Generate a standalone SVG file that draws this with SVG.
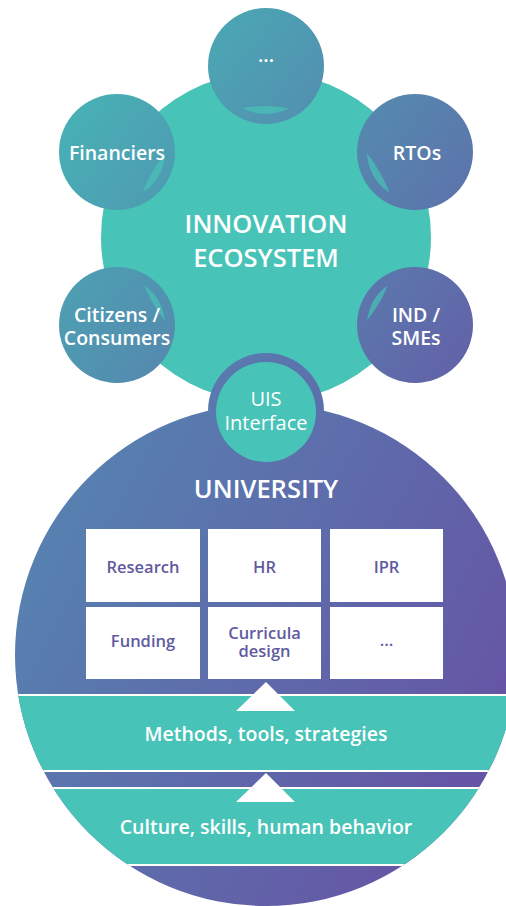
<svg xmlns="http://www.w3.org/2000/svg" width="506" height="906" viewBox="0 0 506 906">
<defs>
<linearGradient id="gSmall" gradientUnits="userSpaceOnUse" x1="60" y1="60" x2="470" y2="380">
<stop offset="0" stop-color="#45b7b6"/>
<stop offset="1" stop-color="#6360a8"/>
</linearGradient>
<linearGradient id="gUni" gradientUnits="userSpaceOnUse" x1="20" y1="450" x2="500" y2="700">
<stop offset="0" stop-color="#5586b2"/>
<stop offset="1" stop-color="#6556a5"/>
</linearGradient>
<clipPath id="cUni"><circle cx="266" cy="655" r="251"/></clipPath>
<clipPath id="cTop"><circle cx="266" cy="66" r="48"/></clipPath>
<clipPath id="cFin"><circle cx="117" cy="152" r="48"/></clipPath>
<clipPath id="cRto"><circle cx="415" cy="152" r="48"/></clipPath>
<clipPath id="cCit"><circle cx="117" cy="325" r="48"/></clipPath>
<clipPath id="cInd"><circle cx="415" cy="325" r="48"/></clipPath>
<style>
.teal{fill:#48c3b7}
.small{fill:url(#gSmall)}
.cres{fill:#48c3b7;fill-opacity:0.7}
.lbl{font-family:"Open Sans","Noto Sans",sans-serif;font-weight:600;font-size:19.5px;fill:#ffffff;text-anchor:middle}
.title{font-family:"Open Sans","Noto Sans",sans-serif;font-weight:600;fill:#ffffff;text-anchor:middle}
.uis{font-family:"Open Sans","Noto Sans",sans-serif;font-weight:400;font-size:20px;fill:#ffffff;text-anchor:middle}
.box{fill:#ffffff}
.btxt{font-family:"Open Sans","Noto Sans",sans-serif;font-weight:600;font-size:16.5px;fill:#5f5aa0;text-anchor:middle}
.band{font-family:"Open Sans","Noto Sans",sans-serif;font-weight:600;font-size:19.5px;fill:#ffffff;text-anchor:middle}
</style>
</defs>

<g id="ecosystem">
<circle class="teal" cx="266" cy="237" r="165"/>
<text class="title" x="266" y="233" font-size="25.5">INNOVATION</text>
<text class="title" x="266" y="267" font-size="25.5">ECOSYSTEM</text>
</g>

<g id="university">
<circle cx="266" cy="655" r="251" fill="url(#gUni)"/>
<g clip-path="url(#cUni)">
<rect x="0" y="694" width="506" height="2" fill="#ffffff"/>
<rect x="0" y="696" width="506" height="74" class="teal"/>
<rect x="0" y="770" width="506" height="2" fill="#ffffff"/>
<rect x="0" y="787" width="506" height="2" fill="#ffffff"/>
<rect x="0" y="789" width="506" height="75" class="teal"/>
<rect x="0" y="864" width="506" height="2" fill="#ffffff"/>
</g>
<text class="title" x="266" y="498" font-size="25.5">UNIVERSITY</text>
</g>

<g id="uis">
<circle cx="266" cy="411" r="58" fill="url(#gUni)"/>
<circle class="teal" cx="266" cy="412" r="50"/>
<text class="uis" x="266" y="406">UIS</text>
<text class="uis" x="266" y="430">Interface</text>
</g>

<g id="node-top">
<circle class="small" cx="266" cy="66" r="58"/>
<circle class="cres" cx="266" cy="237" r="131" clip-path="url(#cTop)"/>
<text class="lbl" x="266" y="62">...</text>
</g>
<g id="node-financiers">
<circle class="small" cx="117" cy="152" r="58"/>
<circle class="cres" cx="266" cy="237" r="131" clip-path="url(#cFin)"/>
<text class="lbl" x="117" y="160">Financiers</text>
</g>
<g id="node-rtos">
<circle class="small" cx="415" cy="152" r="58"/>
<circle class="cres" cx="266" cy="237" r="131" clip-path="url(#cRto)"/>
<text class="lbl" x="417" y="160">RTOs</text>
</g>
<g id="node-citizens">
<circle class="small" cx="117" cy="325" r="58"/>
<circle class="cres" cx="266" cy="237" r="131" clip-path="url(#cCit)"/>
<text class="lbl" x="117" y="322">Citizens /</text>
<text class="lbl" x="117" y="345">Consumers</text>
</g>
<g id="node-ind">
<circle class="small" cx="415" cy="325" r="58"/>
<circle class="cres" cx="266" cy="237" r="131" clip-path="url(#cInd)"/>
<text class="lbl" x="416" y="322">IND /</text>
<text class="lbl" x="416" y="345">SMEs</text>
</g>

<g id="box-research"><rect class="box" x="86" y="529" width="114" height="73"/><text class="btxt" x="143" y="573">Research</text></g>
<g id="box-hr"><rect class="box" x="208" y="529" width="113" height="73"/><text class="btxt" x="264.5" y="573">HR</text></g>
<g id="box-ipr"><rect class="box" x="330" y="529" width="113" height="73"/><text class="btxt" x="386.5" y="573">IPR</text></g>
<g id="box-funding"><rect class="box" x="86" y="607" width="114" height="72"/><text class="btxt" x="143" y="647">Funding</text></g>
<g id="box-curricula"><rect class="box" x="208" y="607" width="113" height="72"/><text class="btxt" x="264.5" y="639">Curricula</text><text class="btxt" x="264.5" y="657">design</text></g>
<g id="box-more"><rect class="box" x="330" y="607" width="113" height="72"/><text class="btxt" x="386.5" y="646">...</text></g>

<g id="band-methods"><text class="band" x="266" y="741">Methods, tools, strategies</text></g>
<g id="band-culture"><text class="band" x="266" y="834">Culture, skills, human behavior</text></g>

<g id="connectors">
<polygon points="266,682 236,711 295,711" fill="#ffffff"/>
<polygon points="266,773 236,802 295,802" fill="#ffffff"/>
</g>
</svg>
